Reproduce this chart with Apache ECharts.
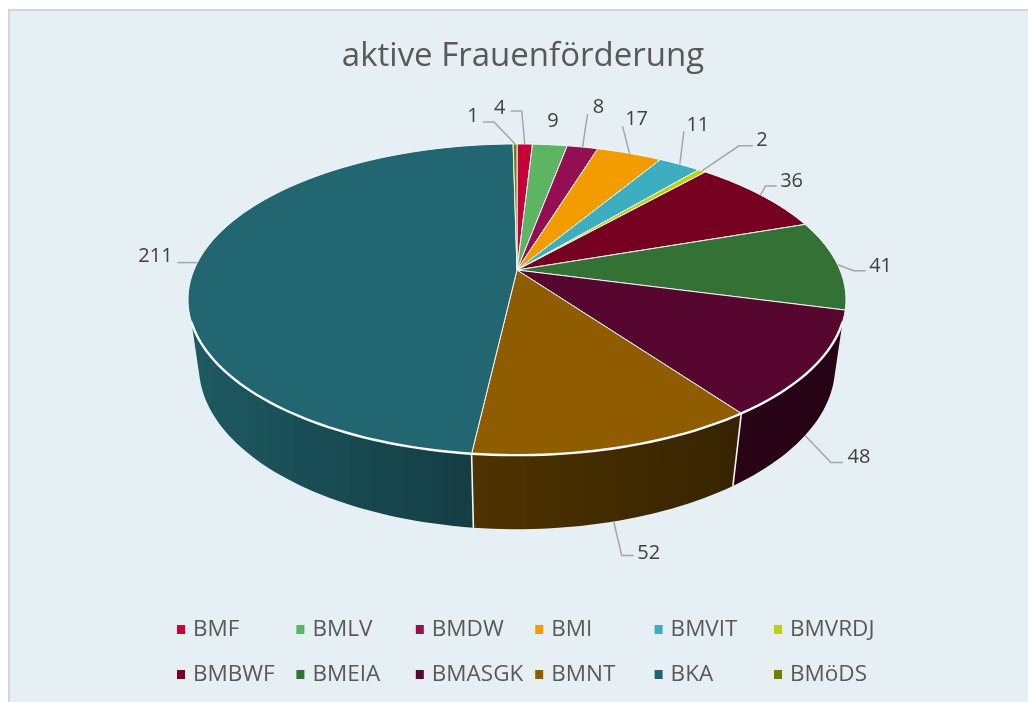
<!DOCTYPE html>
<html><head><meta charset="utf-8">
<style>html,body{margin:0;padding:0;background:#fff}#c{width:1028px;height:702px}</style>
<script src="https://cdn.jsdelivr.net/npm/echarts@6/dist/echarts.min.js"></script>
</head><body><div id="c"></div>
<script>
const titleText = 'aktive Frauenförderung';
const categories = ['BMF','BMLV','BMDW','BMI','BMVIT','BMVRDJ','BMBWF','BMEIA','BMASGK','BMNT','BKA','BMöDS'];
const values = [4,9,8,17,11,2,36,41,48,52,211,1];
const colors = ['#C8003A','#5DB463','#930F52','#F39C00','#3CAEC0','#BFD200','#750020','#337135','#57072F','#8F5C00','#216670','#727F00'];

// label leader lines, relative to the slice's rim point: [elbow dx, elbow dy, end dx, end dy, label dx, label dy]
const leaderLayout = [
  [-3,-33,-14,-33,-25,-36],
  [null,null,null,null,3,-23],
  [5,-33,5,-33,16,-40],
  [-7,-27,-7,-27,7,-34],
  [4,-33,4,-33,18,-39],
  [37,-25,51,-25,60,-31],
  [5,-9,16,-9,31,-14],
  [16,6,28,6,43,2],
  [26,27,38,27,54,22],
  [8,34,20,34,35,32],
  [-9,0,-20,0,-42,-6],
  [-21,-22,-32,-22,-42,-28]
];
const rimOnWall = [false,false,false,false,false,false,false,false,true,true,false,false];
const wallShade = {8:[0.47,0.42], 9:[0.55,0.38], 10:[0.88,0.6]};

const CX=517, CY=270, R=323, B=150, K=0.19, M=0.033, C=68.5;
const total = values.reduce((a,b)=>a+b,0);
const WALL_FROM = 109, WALL_TO = 251, SIL = 4;

function proj(deg, low){
  const t = deg*Math.PI/180, u=Math.sin(t), v=-Math.cos(t);
  const w = 1-K*v+(low?M:0);
  return [CX+R*u/w, CY+(B*v+(low?C:0))/w];
}
function arc(a,b,low){
  const n=Math.max(2,Math.ceil(Math.abs(b-a)/1.5)), p=[];
  for(let i=0;i<=n;i++) p.push(proj(a+(b-a)*i/n,low));
  return p;
}
function shade(hex,f){
  const n=parseInt(hex.slice(1),16);
  return 'rgb('+[(n>>16)&255,(n>>8)&255,n&255].map(c=>Math.round(c*f)).join(',')+')';
}

function renderSlice(idx){
  return function(){
    let before=0; for(let i=0;i<idx;i++) before+=values[i];
    const a=before/total*360, b=(before+values[idx])/total*360, mid=(a+b)/2;
    const col=colors[idx], kids=[];
    const wa=Math.max(a,WALL_FROM), wb=Math.min(b,WALL_TO);
    if(wb>wa){
      const top=arc(wa,wb,false);
      const la=(a<=WALL_FROM&&b>WALL_FROM)?wa-SIL:wa, lb=(a<WALL_TO&&b>=WALL_TO)?wb+SIL:wb;
      const pts=top.concat(arc(lb,la,true));
      const sh=wallShade[idx]||[0.6,0.4];
      kids.push({type:'polygon',shape:{points:pts},silent:true,z2:1,style:{
        fill:new echarts.graphic.LinearGradient(0,0,1,0,[
          {offset:0,color:shade(col,sh[0])},{offset:1,color:shade(col,sh[1])}]),
        stroke:null}});
      if(a>=WALL_FROM) kids.push({type:'line',silent:true,z2:2,shape:{x1:proj(a)[0],y1:proj(a)[1],x2:proj(a,true)[0],y2:proj(a,true)[1]},style:{stroke:'#F2F6F8',lineWidth:1.6}});
    }
    const face=[[CX,CY]].concat(arc(a,b,false));
    kids.push({type:'polygon',shape:{points:face},silent:true,z2:3,style:{fill:col,stroke:'#F4F7F9',lineWidth:1,lineJoin:'round'}});
    if(wb>wa) kids.push({type:'polyline',shape:{points:arc(wa,wb,false)},silent:true,z2:4,style:{fill:null,stroke:'#FAFBFC',lineWidth:2.4}});
    const rim=proj(mid,rimOnWall[idx]), L=leaderLayout[idx];
    if(L[0]!==null){
      kids.push({type:'polyline',silent:true,z2:5,shape:{points:[rim,[rim[0]+L[0],rim[1]+L[1]],[rim[0]+L[2],rim[1]+L[3]]]},style:{fill:null,stroke:'#A6A6A6',lineWidth:1.5}});
    }
    kids.push({type:'text',silent:true,z2:6,x:rim[0]+L[4],y:rim[1]+L[5],style:{text:String(values[idx]),fill:'#404040',font:'20px "Open Sans"',textAlign:'center',textVerticalAlign:'middle'}});
    return {type:'group',children:kids};
  };
}

const series = categories.map((name,i)=>({
  name, type:'custom', coordinateSystem:'none', data:[[values[i]]], z:i+2,
  itemStyle:{color:colors[i]}, renderItem:renderSlice(i), silent:true, animation:false
}));
const legendCols=[177,296.4,415.8,535.2,654.6,774];
const legend = legendCols.map((left,i)=>({
  orient:'vertical', left, top:618, itemWidth:8, itemHeight:9, itemGap:22, icon:'rect', selectedMode:false,
  data:[categories[i],categories[i+6]],
  textStyle:{color:'#595959',fontFamily:'Open Sans',fontSize:22.5,padding:[0,0,0,3]}, padding:0
}));
const chart=echarts.init(document.getElementById('c'),null,{renderer:'canvas'});
chart.setOption({
  animation:false, backgroundColor:'#ffffff',
  title:{text:titleText,left:518,top:35,textAlign:'center',textStyle:{color:'#595959',fontFamily:'Open Sans',fontSize:33,fontWeight:'normal'}},
  graphic:[{type:'rect',silent:true,z:-1,shape:{x:9,y:10,width:1030,height:700},style:{fill:'#E6EFF4',stroke:'#D6D6D6',lineWidth:2}}],
  legend, series
});
</script></body></html>
